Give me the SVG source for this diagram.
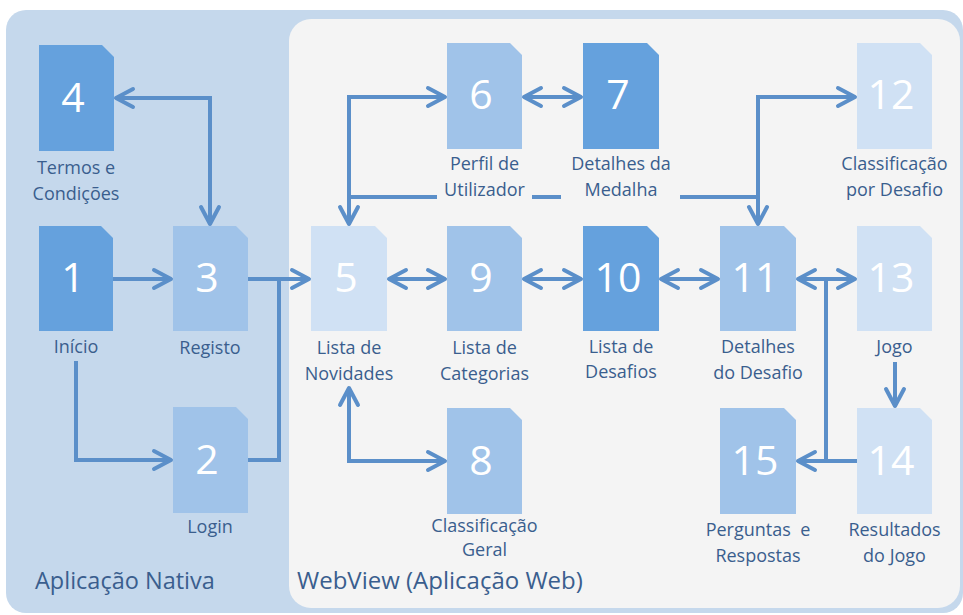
<svg xmlns="http://www.w3.org/2000/svg" width="963" height="615" viewBox="0 0 963 615">
<defs>
<style>
.num{font-family:"Open Sans","Noto Sans",sans-serif;font-size:41px;fill:#ffffff;text-anchor:middle}
.lbl{font-family:"Open Sans","Noto Sans",sans-serif;font-size:18px;fill:#3A5E8E;text-anchor:middle;white-space:pre}
.sec{font-family:"Open Sans","Noto Sans",sans-serif;font-size:23.5px;fill:#3A5E8E}
.dark{fill:#65A1DD}
.mid{fill:#A0C3E9}
.light{fill:#D0E1F4}
.cn{fill:none;stroke:#5B8FC9;stroke-width:4;stroke-linejoin:miter}
.ar{marker-end:url(#ah)}
.ar2{marker-start:url(#ah);marker-end:url(#ah)}
</style>
<marker id="ah" markerUnits="userSpaceOnUse" orient="auto-start-reverse" viewBox="-25 -15 30 30" refX="0" refY="0" markerWidth="30" markerHeight="30" overflow="visible">
<path d="M-17,-9 L0,0 L-17,9" fill="none" stroke="#5B8FC9" stroke-width="4" stroke-linecap="round" stroke-linejoin="round"/>
</marker>
</defs>

<g id="panels">
<rect x="6" y="10" width="957" height="603" rx="20" fill="#C5D8EC"/>
<rect x="289" y="19" width="671" height="589" rx="22" fill="#F4F4F4"/>
<text class="sec" x="35" y="589">Aplicação Nativa</text>
<text class="sec" x="297" y="589" style="font-size:24px">WebView (Aplicação Web)</text>
</g>

<g id="connectors">
<path class="cn ar2" d="M116,98 H210 V224"/>
<path class="cn ar" d="M113,279 H171"/>
<path class="cn ar" d="M76,361 V460 H171"/>
<path class="cn ar" d="M248,279 H309"/>
<path class="cn" d="M248,460 H279 V279"/>
<path class="cn ar2" d="M349,224 V97 H445"/>
<path class="cn" d="M349,197 H758"/>
<path class="cn ar2" d="M758,224 V97 H855"/>
<path class="cn ar2" d="M524,97 H581"/>
<path class="cn ar2" d="M389,279 H445"/>
<path class="cn ar2" d="M524,279 H581"/>
<path class="cn ar2" d="M661,279 H718"/>
<path class="cn ar2" d="M798,279 H855"/>
<path class="cn" d="M826,279 V461"/>
<path class="cn ar" d="M857,461 H798"/>
<path class="cn ar" d="M895,362 V406"/>
<path class="cn ar2" d="M349,388 V461 H445"/>
</g>

<g id="n4">
<path class="dark" d="M39,45 H102 L114,57 V151 H39 Z"/>
<text class="num" x="73" y="112">4</text>
<text class="lbl" x="76" y="174">Termos e</text>
<text class="lbl" x="76" y="200">Condições</text>
</g>
<g id="n1">
<path class="dark" d="M39,226 H101 L113,238 V331 H39 Z"/>
<text class="num" x="73" y="292">1</text>
<text class="lbl" x="76" y="353">Início</text>
</g>
<g id="n3">
<path class="mid" d="M173,226 H236 L248,238 V331 H173 Z"/>
<text class="num" x="207" y="292">3</text>
<text class="lbl" x="210" y="354">Registo</text>
</g>
<g id="n2">
<path class="mid" d="M173,407 H236 L248,419 V513 H173 Z"/>
<text class="num" x="207" y="474">2</text>
<text class="lbl" x="210" y="533">Login</text>
</g>
<g id="n5">
<path class="light" d="M311,226 H375 L387,238 V331 H311 Z"/>
<text class="num" x="346" y="292">5</text>
<text class="lbl" x="349" y="354">Lista de</text>
<text class="lbl" x="349" y="380">Novidades</text>
</g>
<g id="n6">
<rect x="437" y="152" width="95" height="52" fill="#F4F4F4"/>
<path class="mid" d="M447,43 H510 L522,55 V149 H447 Z"/>
<text class="num" x="481" y="109">6</text>
<text class="lbl" x="484.5" y="170">Perfil de</text>
<text class="lbl" x="484.5" y="196">Utilizador</text>
</g>
<g id="n7">
<rect x="561" y="152" width="119" height="52" fill="#F4F4F4"/>
<path class="dark" d="M583,43 H647 L659,55 V149 H583 Z"/>
<text class="num" x="618" y="109">7</text>
<text class="lbl" x="621" y="170">Detalhes da</text>
<text class="lbl" x="621" y="196">Medalha</text>
</g>
<g id="n9">
<path class="mid" d="M447,226 H510 L522,238 V331 H447 Z"/>
<text class="num" x="481" y="292">9</text>
<text class="lbl" x="484.5" y="354">Lista de</text>
<text class="lbl" x="484.5" y="380">Categorias</text>
</g>
<g id="n10">
<path class="dark" d="M583,226 H647 L659,238 V331 H583 Z"/>
<text class="num" x="618" y="292">10</text>
<text class="lbl" x="621" y="353">Lista de</text>
<text class="lbl" x="621" y="378">Desafios</text>
</g>
<g id="n8">
<path class="mid" d="M447,408 H510 L522,420 V514 H447 Z"/>
<text class="num" x="481" y="475">8</text>
<text class="lbl" x="484.5" y="532">Classificação</text>
<text class="lbl" x="484.5" y="556">Geral</text>
</g>
<g id="n11">
<path class="mid" d="M720,226 H784 L796,238 V331 H720 Z"/>
<text class="num" x="755" y="292">11</text>
<text class="lbl" x="758" y="353">Detalhes</text>
<text class="lbl" x="758" y="379">do Desafio</text>
</g>
<g id="n12">
<path class="light" d="M857,43 H920 L932,55 V149 H857 Z"/>
<text class="num" x="891" y="109">12</text>
<text class="lbl" x="894.5" y="170">Classificação</text>
<text class="lbl" x="894.5" y="196">por Desafio</text>
</g>
<g id="n13">
<path class="light" d="M857,226 H920 L932,238 V331 H857 Z"/>
<text class="num" x="891" y="292">13</text>
<text class="lbl" x="894.5" y="353">Jogo</text>
</g>
<g id="n15">
<path class="mid" d="M720,408 H784 L796,420 V514 H720 Z"/>
<text class="num" x="755" y="475">15</text>
<text class="lbl" x="758" y="536">Perguntas  e</text>
<text class="lbl" x="758" y="562">Respostas</text>
</g>
<g id="n14">
<path class="light" d="M857,408 H920 L932,420 V514 H857 Z"/>
<text class="num" x="891" y="475">14</text>
<text class="lbl" x="894.5" y="536">Resultados</text>
<text class="lbl" x="894.5" y="562">do Jogo</text>
</g>
</svg>
